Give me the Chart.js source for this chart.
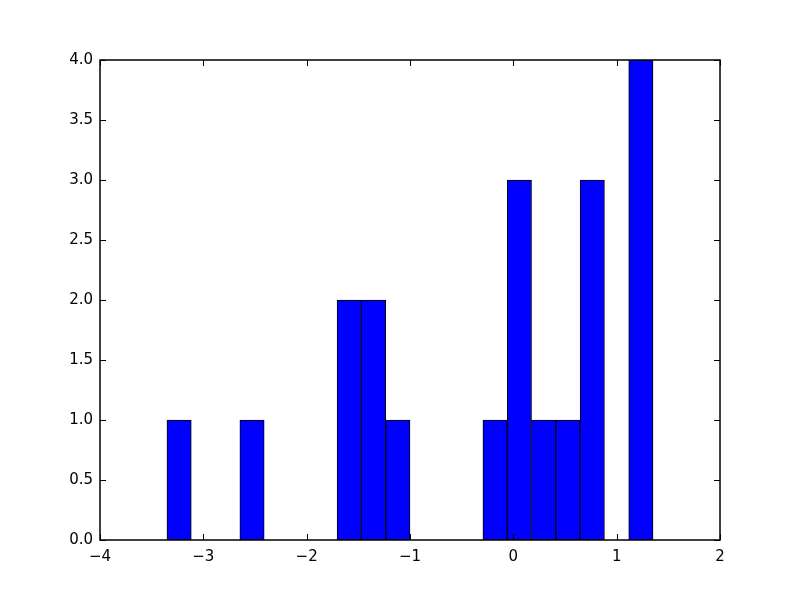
<!DOCTYPE html>
<html>
<head>
<meta charset="utf-8">
<script src="https://cdn.jsdelivr.net/npm/chart.js@4/dist/chart.umd.min.js"></script>
<style>
html,body{margin:0;padding:0;background:#fff;}
#wrap{width:800px;height:600px;}
</style>
</head>
<body>
<div id="wrap"><canvas id="c" width="800" height="600"></canvas></div>
<script>
// Histogram: 20 bins from -3.352 to 1.352
const binStart = -3.352;
const binWidth = 0.2352;
const counts = [1,0,0,1,0,0,0,2,2,1,0,0,0,1,3,1,1,3,0,4];
const xTicks = [-4,-3,-2,-1,0,1,2];
const yTicks = [0,0.5,1,1.5,2,2.5,3,3.5,4];

const binCenters = counts.map((_, i) => binStart + binWidth * (i + 0.5));
const data = binCenters.map((x, i) => ({x: x, y: counts[i]}));

const FONT = {family: 'DejaVu Sans', size: 15};

const inwardTicks = {
  id: 'inwardTicks',
  afterDraw(chart) {
    const ctx = chart.ctx, a = chart.chartArea;
    const xs = chart.scales.x, ys = chart.scales.y;
    const L = 6;
    ctx.save();
    ctx.strokeStyle = '#000';
    ctx.lineWidth = 1;
    ctx.beginPath();
    xTicks.forEach(v => {
      const p = Math.round(xs.getPixelForValue(v)) + 0.5;
      ctx.moveTo(p, a.bottom); ctx.lineTo(p, a.bottom - L);
      ctx.moveTo(p, a.top); ctx.lineTo(p, a.top + L);
    });
    yTicks.forEach(v => {
      const p = Math.round(ys.getPixelForValue(v)) + 0.5;
      ctx.moveTo(a.left, p); ctx.lineTo(a.left + L, p);
      ctx.moveTo(a.right, p); ctx.lineTo(a.right - L, p);
    });
    ctx.stroke();
    ctx.lineWidth = 1.5;
    ctx.strokeRect(a.left, a.top, a.right - a.left, a.bottom - a.top);
    ctx.restore();
  }
};

new Chart(document.getElementById('c'), {
  type: 'bar',
  data: {
    datasets: [{
      data: data,
      backgroundColor: '#0000ff',
      borderColor: '#000000',
      borderWidth: 1,
      borderSkipped: false,
      barPercentage: 1.0,
      categoryPercentage: 1.0
    }]
  },
  options: {
    responsive: false,
    animation: false,
    devicePixelRatio: 1,
    layout: {padding: {left: 0, top: 60, right: 80, bottom: 0}},
    plugins: {legend: {display: false}, tooltip: {enabled: false}},
    scales: {
      x: {
        type: 'linear',
        min: -4, max: 2,
        offset: false,
        afterFit(s) { s.height = 60; },
        afterBuildTicks(s) { s.ticks = xTicks.map(v => ({value: v})); },
        grid: {display: false, drawTicks: false},
        border: {display: false},
        ticks: {
          font: FONT, color: '#000', padding: 8, maxRotation: 0,
          callback: v => (v < 0 ? '\u2212' + Math.abs(v) : String(v))
        }
      },
      y: {
        type: 'linear',
        min: 0, max: 4,
        afterFit(s) { s.width = 100; },
        afterBuildTicks(s) { s.ticks = yTicks.map(v => ({value: v})); },
        grid: {display: false, drawTicks: false},
        border: {display: false},
        ticks: {
          font: FONT, color: '#000', padding: 7,
          callback: v => Number(v).toFixed(1)
        }
      }
    }
  },
  plugins: [inwardTicks]
});
</script>
</body>
</html>
